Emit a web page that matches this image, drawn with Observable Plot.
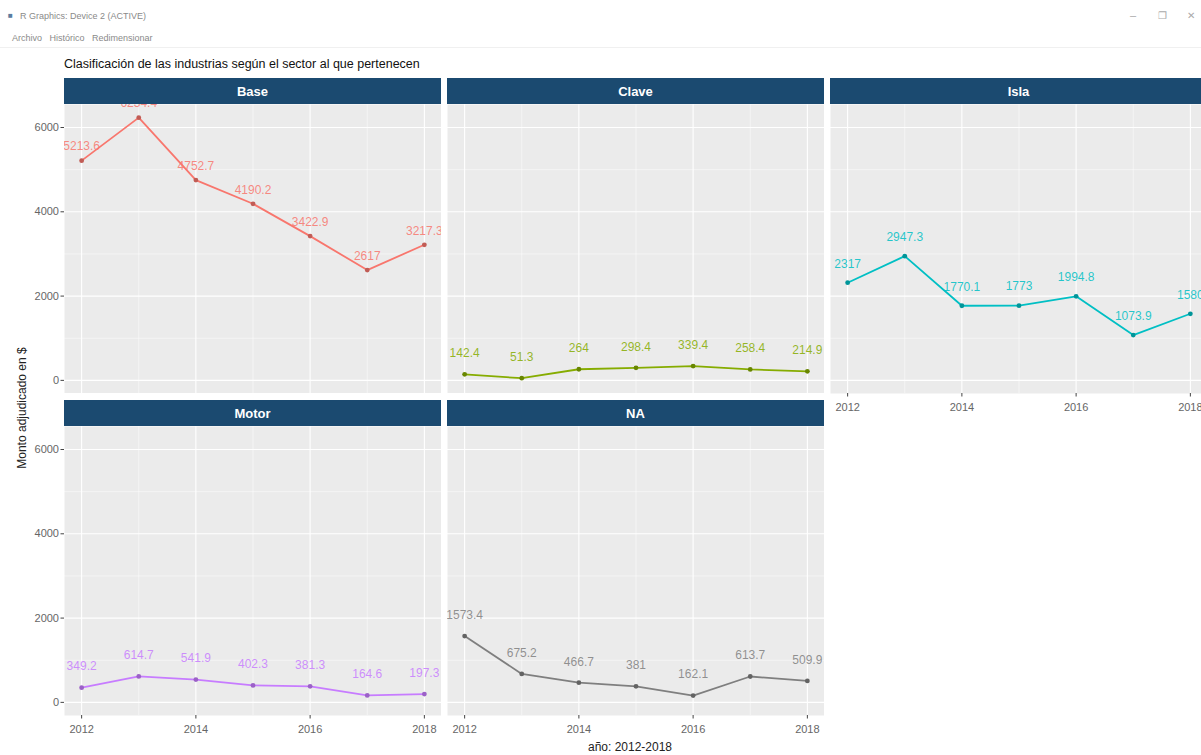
<!DOCTYPE html>
<html>
<head>
<meta charset="utf-8">
<script src="https://cdn.jsdelivr.net/npm/d3@7"></script>
<script src="https://cdn.jsdelivr.net/npm/@observablehq/plot@0.6"></script>
<style>
  html, body { margin: 0; padding: 0; background: #fff; }
  body { font-family: "Liberation Sans", Arial, sans-serif; overflow: hidden; }
  #root { position: relative; width: 1201px; height: 755px; overflow: hidden; background: #fff; }
  .abs { position: absolute; white-space: nowrap; }
  .strip { position: absolute; background: #1B4A70; color: #fff; font-weight: bold; font-size: 13px;
           display: flex; align-items: center; justify-content: center; }
  .chrome { color: #8a8a8a; font-size: 9px; font-family: "Liberation Sans", Arial, sans-serif; }
</style>
</head>
<body>
<div id="root"></div>
<script>
// ---------- data ----------
const years = [2012, 2013, 2014, 2015, 2016, 2017, 2018];
const sectors = ["Base", "Clave", "Isla", "Motor", "NA"];
const base  = [5213.6, 6234.4, 4752.7, 4190.2, 3422.9, 2617, 3217.3];
const clave = [142.4, 51.3, 264, 298.4, 339.4, 258.4, 214.9];
const isla  = [2317, 2947.3, 1770.1, 1773, 1994.8, 1073.9, 1580];
const motor = [349.2, 614.7, 541.9, 402.3, 381.3, 164.6, 197.3];
const na    = [1573.4, 675.2, 466.7, 381, 162.1, 613.7, 509.9];
const seriesValues = [base, clave, isla, motor, na];
const colors = ["#F8766D", "#86AC00", "#00BFC4", "#C77CFF", "#7F7F7F"];
const xTicks = [2012, 2014, 2016, 2018];
const xMinor = [2013, 2015, 2017];
const yTicks = [0, 2000, 4000, 6000];
const yMinor = [1000, 3000, 5000];
const title = "Clasificación de las industrias según el sector al que pertenecen";
const xTitle = "año: 2012-2018";
const yTitle = "Monto adjudicado en $";

// ---------- layout ----------
const root = document.getElementById("root");
const colX = [64, 447, 830];
const panelW = 377;
const stripTop = [78, 400];
const stripH = 26;
const panelH = 289;
const labelDy = [-14, -21, -19, -21, -21];
const font = "Liberation Sans, Arial, sans-serif";

function addText(txt, cls, css) {
  const d = document.createElement("div");
  d.className = "abs " + (cls || "");
  d.textContent = txt;
  Object.assign(d.style, css);
  root.appendChild(d);
  return d;
}

// window chrome
addText("■", "chrome", {left: "8px", top: "11px", fontSize: "8px", color: "#5a7da0"});
addText("R Graphics: Device 2 (ACTIVE)", "chrome", {left: "20px", top: "11px"});
addText("Archivo   Histórico   Redimensionar", "chrome", {left: "12px", top: "33px", whiteSpace: "pre"});
addText("–", "chrome", {left: "1130px", top: "9px", fontSize: "11px", color: "#aaa"});
addText("❐", "chrome", {left: "1158px", top: "10px", fontSize: "10px", color: "#aaa"});
addText("✕", "chrome", {left: "1187px", top: "10px", fontSize: "10px", color: "#aaa"});
const sep = document.createElement("div");
sep.className = "abs";
Object.assign(sep.style, {left: "0px", top: "47px", width: "1201px", height: "1px", background: "#f0f0f0"});
root.appendChild(sep);

// titles
addText(title, "", {left: "64px", top: "57px", fontSize: "12.5px", color: "#111"});
addText(xTitle, "", {left: "630px", top: "740px", fontSize: "12px", color: "#222", transform: "translateX(-50%)"});
addText(yTitle, "", {left: "22px", top: "408px", fontSize: "12px", color: "#222",
  transform: "translate(-50%,-50%) rotate(-90deg)"});

// shared y domain (from 0 to max, 5% expansion)
const allVals = seriesValues.flat();
const vmax = d3.max(allVals);
const vmin = Math.min(0, d3.min(allVals));
const pad = (vmax - vmin) * 0.05;
const yDomain = [vmin - pad, vmax + pad];
const xDomain = [2012 - 0.3, 2018 + 0.3];

sectors.forEach((s, i) => {
  const col = i % 3, row = Math.floor(i / 3);
  const rows = years.map((y, j) => ({sector: s, year: y, value: seriesValues[i][j]}));
  const color = colors[i];
  const showY = col === 0;
  const showX = (row === 1) || (i === 2);
  const mL = showY ? 44 : 0;
  const mB = showX ? 26 : 0;
  const x0 = colX[col];
  const pTop = stripTop[row] + stripH;

  // strip
  const st = document.createElement("div");
  st.className = "strip";
  Object.assign(st.style, {left: x0 + "px", top: stripTop[row] + "px", width: panelW + "px", height: stripH + "px"});
  st.textContent = s;
  root.appendChild(st);

  const marks = [
    Plot.frame({fill: "#EBEBEB"}),
    Plot.ruleX(xMinor, {stroke: "white", strokeWidth: 0.5}),
    Plot.ruleY(yMinor, {stroke: "white", strokeWidth: 0.5}),
    Plot.ruleX(xTicks, {stroke: "white", strokeWidth: 1.1}),
    Plot.ruleY(yTicks, {stroke: "white", strokeWidth: 1.1}),
    Plot.line(rows, {x: "year", y: "value", stroke: color, strokeWidth: 1.8, clip: true}),
    Plot.dot(rows, {x: "year", y: "value", r: 2.4, fill: d3.color(color).darker(0.7).formatHex(), clip: true}),
    Plot.text(rows, {x: "year", y: "value", text: d => String(d.value), dy: labelDy[i], fill: color,
      fillOpacity: 0.85, fontSize: 12, clip: true})
  ];
  if (showY) marks.push(Plot.axisY({ticks: yTicks, tickFormat: "d", tickSize: 3.5, tickPadding: 2,
    fontSize: 11, fill: "#666", stroke: "#444", label: null}));
  if (showX) marks.push(Plot.axisX({ticks: xTicks, tickFormat: "d", tickSize: 3.5, tickPadding: 6,
    fontSize: 11, fill: "#666", stroke: "#444", label: null}));

  const chart = Plot.plot({
    width: panelW + mL,
    height: panelH + mB,
    marginLeft: mL, marginRight: 0, marginTop: 0, marginBottom: mB,
    style: {fontFamily: font, fontSize: "11px", background: "transparent"},
    x: {domain: xDomain, axis: null},
    y: {domain: yDomain, axis: null},
    marks
  });
  Object.assign(chart.style, {position: "absolute", left: (x0 - mL) + "px", top: pTop + "px", maxWidth: "none"});
  root.appendChild(chart);
});
</script>
</body>
</html>
